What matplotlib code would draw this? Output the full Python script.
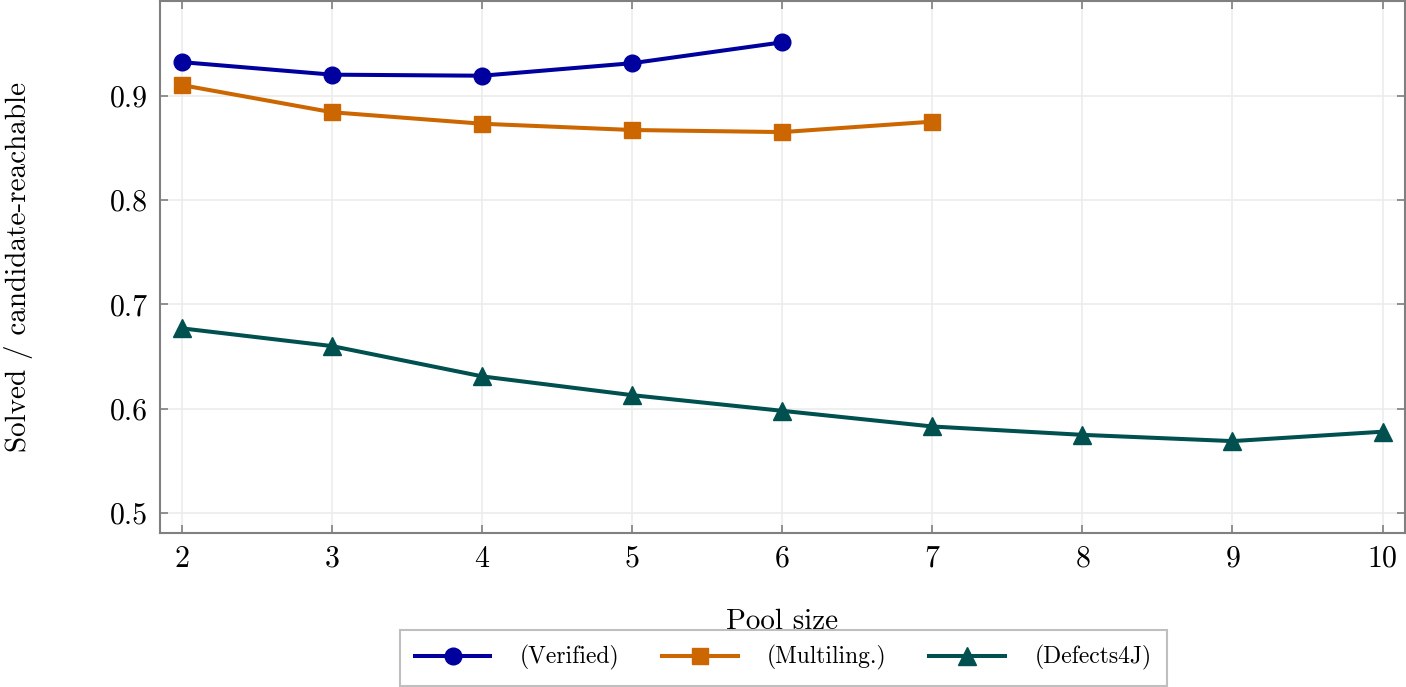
import numpy as np
import matplotlib
matplotlib.use("Agg")
import matplotlib.pyplot as plt

plt.rcParams['font.family'] = ['cmr10', 'DejaVu Serif']
plt.rcParams['mathtext.fontset'] = 'cm'
plt.rcParams['axes.formatter.use_mathtext'] = True

# pool sizes and ratios per benchmark
pool_verified = [2, 3, 4, 5, 6]
ratio_verified = [0.932, 0.920, 0.919, 0.931, 0.951]
pool_multi = [2, 3, 4, 5, 6, 7]
ratio_multi = [0.910, 0.884, 0.873, 0.867, 0.865, 0.875]
pool_d4j = [2, 3, 4, 5, 6, 7, 8, 9, 10]
ratio_d4j = [0.677, 0.660, 0.631, 0.613, 0.598, 0.583, 0.575, 0.569, 0.578]

series_labels = ['(Verified)', '(Multiling.)', '(Defects4J)']
x_ticks = [2, 3, 4, 5, 6, 7, 8, 9, 10]
y_ticks = [0.5, 0.6, 0.7, 0.8, 0.9]

blue = '#00009f'
orange = '#cc6600'
teal = '#005050'

fig = plt.figure(figsize=(14.06, 6.87), dpi=100)
ax = fig.add_axes([0.1138, 0.2242, 0.8855, 0.775])

ax.plot(pool_verified, ratio_verified, color=blue, lw=2.9, marker='o', ms=12, label=series_labels[0])
ax.plot(pool_multi, ratio_multi, color=orange, lw=2.9, marker='s', ms=11, label=series_labels[1])
ax.plot(pool_d4j, ratio_d4j, color=teal, lw=2.9, marker='^', ms=13, label=series_labels[2])

ax.set_xlim(1.853, 10.15)
ax.set_ylim(0.481, 0.991)
ax.set_xticks(x_ticks)
ax.set_yticks(y_ticks)
ax.set_yticklabels(['%.1f' % v for v in y_ticks])
ax.grid(True, color='#ececec', lw=1.2)
ax.set_axisbelow(True)
for s in ax.spines.values():
    s.set_color('#808080')
    s.set_linewidth(1.5)
ax.tick_params(direction='in', length=6, color='#808080', width=1.2,
               top=True, right=True, labelsize=21.5, pad=9)

ax.set_xlabel('Pool size', fontsize=21, labelpad=26)
ax.set_ylabel('Solved / candidate-reachable', fontsize=21, labelpad=55)

leg = fig.legend(loc='upper center', bbox_to_anchor=(0.557, 0.083), ncol=3,
                 fontsize=17, frameon=True, fancybox=False, edgecolor='#b0b0b0',
                 handlelength=3.2, handletextpad=1.25, columnspacing=1.8,
                 borderpad=0.65, borderaxespad=0)
leg.get_frame().set_linewidth(1.5)

fig.savefig('out.png', dpi=100)
